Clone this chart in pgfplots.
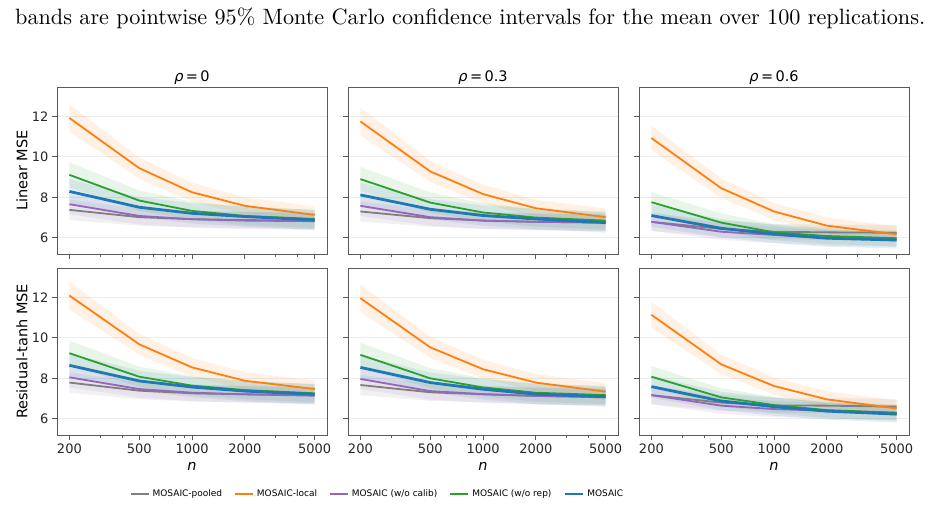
\documentclass[border=0pt]{standalone}
\usepackage{graphicx}
\usepackage{fontspec}
\usepackage{pgfplots}
\pgfplotsset{compat=1.18}
\usepackage{pgfplotstable}
\newfontfamily\dv{DejaVu Sans}

\definecolor{cgray}{HTML}{7F7F7F}
\definecolor{corange}{HTML}{FF7F0E}
\definecolor{cpurple}{HTML}{9467BD}
\definecolor{cgreen}{HTML}{2CA02C}
\definecolor{cblue}{HTML}{1F77B4}

% mean curves: n, then the mean MSE of each method
% bands: upper edge at n = 200..5000, then lower edge back from 5000 to 200
\pgfplotstableread{
n    pool loc   cal  rep  mos
200  7.38 11.92 7.66 9.11 8.29
500  7.02 9.44  7.08 7.84 7.51
1000 6.92 8.25  6.92 7.33 7.21
2000 6.88 7.58  6.85 7.08 7.05
5000 6.83 7.13  6.82 6.93 6.88
}\linA
\pgfplotstableread{
n    pool loc   cal  rep  mos
200  7.88 12.60 8.16 9.73 8.89
500  7.44 9.96  7.50 8.34 8.01
1000 7.32 8.71  7.34 7.78 7.71
2000 7.28 8.00  7.27 7.53 7.55
5000 7.23 7.55  7.24 7.38 7.38
5000 6.43 6.71  6.40 6.48 6.38
2000 6.48 7.16  6.43 6.63 6.55
1000 6.52 7.79  6.50 6.88 6.71
500  6.60 8.92  6.66 7.34 7.01
200  6.88 11.24 7.16 8.49 7.69
}\linAb
\pgfplotstableread{
n    pool loc   cal  rep  mos
200  7.30 11.75 7.58 8.90 8.12
500  6.97 9.28  7.02 7.74 7.41
1000 6.85 8.16  6.85 7.25 7.10
2000 6.79 7.46  6.79 7.00 6.93
5000 6.75 7.02  6.75 6.85 6.75
}\linB
\pgfplotstableread{
n    pool loc   cal  rep  mos
200  7.80 12.43 8.08 9.50 8.72
500  7.39 9.80  7.44 8.24 7.91
1000 7.25 8.62  7.27 7.70 7.60
2000 7.19 7.88  7.21 7.45 7.43
5000 7.15 7.44  7.17 7.30 7.25
5000 6.35 6.60  6.33 6.40 6.25
2000 6.39 7.04  6.37 6.55 6.43
1000 6.45 7.70  6.43 6.80 6.60
500  6.55 8.76  6.60 7.24 6.91
200  6.80 11.07 7.08 8.30 7.52
}\linBb
\pgfplotstableread{
n    pool loc   cal  rep  mos
200  6.79 10.93 6.79 7.76 7.10
500  6.44 8.45  6.30 6.75 6.47
1000 6.30 7.30  6.14 6.27 6.19
2000 6.27 6.60  5.99 6.09 5.98
5000 6.25 6.17  5.93 5.98 5.89
}\linC
\pgfplotstableread{
n    pool loc   cal  rep  mos
200  7.24 11.53 7.24 8.26 7.65
500  6.84 8.93  6.70 7.20 6.92
1000 6.68 7.72  6.54 6.67 6.64
2000 6.65 7.00  6.37 6.49 6.40
5000 6.63 6.57  6.31 6.38 6.31
5000 5.87 5.77  5.55 5.58 5.47
2000 5.89 6.20  5.61 5.69 5.56
1000 5.92 6.88  5.74 5.87 5.74
500  6.04 7.97  5.90 6.30 6.02
200  6.34 10.33 6.34 7.26 6.55
}\linCb
\pgfplotstableread{
n    pool loc   cal  rep  mos
200  7.79 12.09 8.05 9.24 8.64
500  7.39 9.68  7.47 8.08 7.87
1000 7.26 8.54  7.29 7.64 7.57
2000 7.21 7.88  7.21 7.42 7.37
5000 7.17 7.47  7.14 7.26 7.21
}\resA
\pgfplotstableread{
n    pool loc   cal  rep  mos
200  8.29 12.77 8.55 9.86 9.24
500  7.81 10.20 7.89 8.58 8.37
1000 7.66 9.00  7.71 8.09 8.07
2000 7.61 8.30  7.63 7.87 7.87
5000 7.57 7.89  7.56 7.71 7.71
5000 6.77 7.05  6.72 6.81 6.71
2000 6.81 7.46  6.79 6.97 6.87
1000 6.86 8.08  6.87 7.19 7.07
500  6.97 9.16  7.05 7.58 7.37
200  7.29 11.41 7.55 8.62 8.04
}\resAb
\pgfplotstableread{
n    pool loc   cal  rep  mos
200  7.67 11.96 7.97 9.16 8.54
500  7.31 9.53  7.37 8.00 7.79
1000 7.21 8.45  7.22 7.55 7.46
2000 7.13 7.79  7.13 7.29 7.22
5000 7.06 7.34  7.09 7.17 7.09
}\resB
\pgfplotstableread{
n    pool loc   cal  rep  mos
200  8.17 12.64 8.47 9.76 9.14
500  7.73 10.05 7.79 8.50 8.29
1000 7.61 8.91  7.64 8.00 7.96
2000 7.53 8.21  7.55 7.74 7.72
5000 7.46 7.76  7.51 7.62 7.59
5000 6.66 6.92  6.67 6.72 6.59
2000 6.73 7.37  6.71 6.84 6.72
1000 6.81 7.99  6.80 7.10 6.96
500  6.89 9.01  6.95 7.50 7.29
200  7.17 11.28 7.47 8.56 7.94
}\resBb
\pgfplotstableread{
n    pool loc   cal  rep  mos
200  7.17 11.14 7.17 8.08 7.59
500  6.80 8.69  6.65 7.06 6.88
1000 6.66 7.62  6.48 6.68 6.60
2000 6.65 6.96  6.40 6.43 6.38
5000 6.60 6.51  6.30 6.30 6.23
}\resC
\pgfplotstableread{
n    pool loc   cal  rep  mos
200  7.62 11.76 7.62 8.60 8.14
500  7.20 9.17  7.05 7.51 7.33
1000 7.04 8.04  6.88 7.08 7.05
2000 7.03 7.36  6.78 6.83 6.80
5000 6.98 6.91  6.68 6.70 6.65
5000 6.22 6.11  5.92 5.90 5.81
2000 6.27 6.56  6.02 6.03 5.96
1000 6.28 7.20  6.08 6.28 6.15
500  6.40 8.21  6.25 6.61 6.43
200  6.72 10.52 6.72 7.56 7.04
}\resCb

% shaded confidence bands, then the mean curves on top
\newcommand{\curves}[2]{%
  \addplot[fill=cgray, fill opacity=0.11, draw=none, forget plot] table[x=n, y=pool] {#2} -- cycle;
  \addplot[fill=corange, fill opacity=0.11, draw=none, forget plot] table[x=n, y=loc] {#2} -- cycle;
  \addplot[fill=cpurple, fill opacity=0.11, draw=none, forget plot] table[x=n, y=cal] {#2} -- cycle;
  \addplot[fill=cgreen, fill opacity=0.11, draw=none, forget plot] table[x=n, y=rep] {#2} -- cycle;
  \addplot[fill=cblue, fill opacity=0.11, draw=none, forget plot] table[x=n, y=mos] {#2} -- cycle;
  \addplot[cgray, line width=1.8pt] table[x=n, y=pool] {#1};
  \addplot[corange, line width=1.8pt] table[x=n, y=loc] {#1};
  \addplot[cpurple, line width=1.8pt] table[x=n, y=cal] {#1};
  \addplot[cgreen, line width=1.8pt] table[x=n, y=rep] {#1};
  \addplot[cblue, line width=2.8pt] table[x=n, y=mos] {#1};
}

\pgfplotsset{
  every axis/.append style={
    width=270pt, height=167pt, scale only axis, anchor=south west,
    xmin=170, xmax=5875, ymin=5.2, ymax=13.45,
    xtick={200,500,1000,2000,5000},
    minor xtick={300,400,600,700,800,900,3000,4000},
    ytick={6,8,10,12},
    tick pos=left, tick align=outside,
    major tick length=5pt, minor tick length=3pt,
    axis line style={black!65, line width=0.8pt},
    ymajorgrids, major grid style={black!7, line width=0.8pt},
    tick label style={font=\dv\fontsize{13}{15}\selectfont, text=black!85},
    title style={anchor=base, yshift=-1pt, font=\dv\fontsize{14.5}{16}\selectfont},
    xlabel style={at={(axis description cs:0.5,0)}, anchor=base, yshift=-35pt, font=\dv\fontsize{14.5}{16}\selectfont},
    ylabel style={at={(axis description cs:-0.13,0.5)}, anchor=center, font=\dv\fontsize{14.5}{16}\selectfont},
  },
  every major tick/.append style={black!65, line width=0.8pt},
  every minor tick/.append style={black!65, line width=0.6pt},
}

\begin{document}
\begin{tikzpicture}[x=1pt, y=1pt]
\path[use as bounding box] (0,0) rectangle (930,507);

\node[anchor=base west, inner sep=0] at (15,482)
  {\resizebox{910pt}{!}{bands are pointwise 95\% Monte Carlo confidence intervals for the mean over 100 replications.}};

\begin{axis}[xmode=log, at={(57pt,253pt)}, xticklabels={},
  yticklabels={6,8,10,12},
  title={{\itshape ρ}\,=\,0}, ylabel={Linear MSE}]
\curves{\linA}{\linAb}
\end{axis}
\begin{axis}[xmode=log, at={(348pt,253pt)}, xticklabels={}, yticklabels={},
  title={{\itshape ρ}\,=\,0.3}]
\curves{\linB}{\linBb}
\end{axis}
\begin{axis}[xmode=log, at={(639pt,253pt)}, xticklabels={}, yticklabels={},
  title={{\itshape ρ}\,=\,0.6}]
\curves{\linC}{\linCb}
\end{axis}

\begin{axis}[xmode=log, at={(57pt,72pt)},
  xticklabels={200,500,1000,2000,5000}, yticklabels={6,8,10,12},
  xlabel={\itshape n}, ylabel={Residual-tanh MSE}]
\curves{\resA}{\resAb}
\end{axis}
\begin{axis}[xmode=log, at={(348pt,72pt)},
  xticklabels={200,500,1000,2000,5000}, yticklabels={},
  xlabel={\itshape n},
  legend columns=5,
  legend style={at={(axis description cs:0.111,-0.353)}, anchor=center,
    draw=none, fill=none, font=\dv\fontsize{9}{10}\selectfont,
    /tikz/every even column/.append style={column sep=9pt},
    nodes={inner xsep=3pt, inner ysep=1pt}},
  legend image code/.code={\draw[#1] (0pt,0pt) -- (18pt,0pt);}]
\curves{\resB}{\resBb}
\legend{MOSAIC-pooled, MOSAIC-local, MOSAIC (w/o calib), MOSAIC (w/o rep), MOSAIC}
\end{axis}
\begin{axis}[xmode=log, at={(639pt,72pt)},
  xticklabels={200,500,1000,2000,5000}, yticklabels={},
  xlabel={\itshape n}]
\curves{\resC}{\resCb}
\end{axis}
\end{tikzpicture}
\end{document}
